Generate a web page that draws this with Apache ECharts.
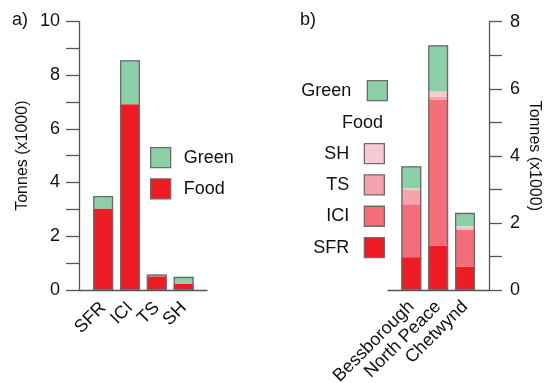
<!DOCTYPE html>
<html>
<head>
<meta charset="utf-8">
<script src="https://cdn.jsdelivr.net/npm/echarts@6/dist/echarts.min.js"></script>
<style>
  html, body { margin: 0; padding: 0; background: #fff; }
  #chart { width: 544px; height: 383px; }
</style>
</head>
<body>
<div id="chart"></div>
<script>
// Panel a) waste stream totals
const catsA = ['SFR', 'ICI', 'TS', 'SH'];
const foodA = [3.03, 6.91, 0.51, 0.23];
const greenA = [0.47, 1.64, 0.07, 0.26];

// Panel b) by community
const catsB = ['Bessborough', 'North Peace', 'Chetwynd'];
const sfrB = [0.98, 1.32, 0.70];
const iciB = [1.58, 4.35, 1.10];
const tsB = [0.42, 0.10, 0.04];
const shB = [0.05, 0.15, 0.06];
const greenB = [0.66, 1.38, 0.40];

const ticksA = [0, 2, 4, 6, 8, 10];
const ticksB = [0, 2, 4, 6, 8];

const C = {
  green: '#8dcfa6',
  red: '#ed1c24',
  ici: '#f26f7a',
  ts: '#f5a4ae',
  sh: '#f8c9d3',
  axis: '#555',
  edge: '#6b6b6b',
  text: '#111'
};
const FONT = 'Liberation Sans, Arial, sans-serif';

// value first so stacking happens on the y dimension; position index second
const pts = arr => arr.map((v, i) => [v, i]);
const sumOf = (...arrs) => arrs[0].map((_, i) => arrs.reduce((s, a) => s + a[i], 0));

function seg(name, data, color, axis, stack) {
  return {
    type: 'bar', name, stack, data: pts(data),
    encode: { x: 1, y: 0 },
    xAxisIndex: axis, yAxisIndex: axis,
    barWidth: 20, barGap: '-100%',
    itemStyle: { color },
    silent: true
  };
}
function outline(data, axis) {
  return {
    type: 'bar', name: 'Total' + axis, data: pts(data),
    encode: { x: 1, y: 0 },
    xAxisIndex: axis, yAxisIndex: axis,
    barWidth: 20, barGap: '-100%', z: 3,
    itemStyle: { color: 'rgba(0,0,0,0)', borderColor: C.edge, borderWidth: 1.3 },
    silent: true
  };
}

function xAxis(grid, cats, min, max, margin) {
  return {
    type: 'value', gridIndex: grid, min, max,
    axisLine: { show: true, onZero: false, lineStyle: { color: C.axis, width: 1.3 } },
    axisTick: { show: false },
    splitLine: { show: false },
    axisLabel: {
      customValues: cats.map((_, i) => i),
      formatter: v => cats[Math.round(v)],
      rotate: 45, margin,
      color: C.text, fontSize: 18, fontFamily: FONT
    }
  };
}
function yAxis(grid, pos, max, ticks, gap, rot, margin) {
  return {
    type: 'value', gridIndex: grid, position: pos, min: 0, max, interval: 1,
    name: 'Tonnes (x1000)', nameLocation: 'middle', nameGap: gap, nameRotate: rot,
    nameTextStyle: { color: C.text, fontSize: 16, fontFamily: FONT },
    axisLine: { show: true, onZero: false, lineStyle: { color: C.axis, width: 1.3 } },
    axisTick: { show: true, length: 13, lineStyle: { color: C.axis, width: 1.3 } },
    splitLine: { show: false },
    axisLabel: {
      margin,
      formatter: v => (ticks.indexOf(v) >= 0 ? String(v) : ''),
      color: C.text, fontSize: 18, fontFamily: FONT
    }
  };
}

const legendBase = {
  orient: 'vertical', itemWidth: 20, itemHeight: 20, itemGap: 10, padding: 0,
  icon: 'rect', selectedMode: false,
  itemStyle: { borderColor: C.edge, borderWidth: 1.3 },
  textStyle: { color: C.text, fontSize: 18, fontFamily: FONT }
};

const chart = echarts.init(document.getElementById('chart'), null, { renderer: 'canvas' });
chart.setOption({
  animation: false,
  backgroundColor: '#fff',
  title: [
    { text: 'a)', left: 12, top: 11, padding: 0, textStyle: { color: C.text, fontSize: 18, fontWeight: 'normal', fontFamily: FONT } },
    { text: 'b)', left: 300, top: 11, padding: 0, textStyle: { color: C.text, fontSize: 18, fontWeight: 'normal', fontFamily: FONT } },
    { text: 'Food', right: 161, top: 114, padding: 0, textStyle: { color: C.text, fontSize: 18, fontWeight: 'normal', fontFamily: FONT } }
  ],
  grid: [
    { left: 79, top: 21.3, width: 128, height: 268.7, outerBoundsMode: 'none', containLabel: false },
    { left: 388, top: 21.7, width: 101, height: 268.3, outerBoundsMode: 'none', containLabel: false }
  ],
  xAxis: [
    xAxis(0, catsA, -0.9, 3.87, 15),
    xAxis(1, catsB, -0.868, 2.894, 14)
  ],
  yAxis: [
    yAxis(0, 'left', 10, ticksA, 48, 90, 19),
    yAxis(1, 'right', 8, ticksB, 37, -90, 21)
  ],
  legend: [
    Object.assign({}, legendBase, {
      left: 150, top: 147, align: 'left', data: ['Green', 'Food'],
      textStyle: Object.assign({}, legendBase.textStyle, { padding: [0, 0, 0, 8] })
    }),
    Object.assign({}, legendBase, {
      right: 156, top: 80, align: 'right', data: ['Green'],
      textStyle: Object.assign({}, legendBase.textStyle, { padding: [0, 11, 0, 0] })
    }),
    Object.assign({}, legendBase, {
      right: 159, top: 143, align: 'right', data: ['SH', 'TS', 'ICI', 'SFR'],
      textStyle: Object.assign({}, legendBase.textStyle, { padding: [0, 10, 0, 0] })
    })
  ],
  series: [
    seg('Food', foodA, C.red, 0, 'a'),
    seg('Green', greenA, C.green, 0, 'a'),
    outline(sumOf(foodA, greenA), 0),
    seg('SFR', sfrB, C.red, 1, 'b'),
    seg('ICI', iciB, C.ici, 1, 'b'),
    seg('TS', tsB, C.ts, 1, 'b'),
    seg('SH', shB, C.sh, 1, 'b'),
    seg('Green', greenB, C.green, 1, 'b'),
    outline(sumOf(sfrB, iciB, tsB, shB, greenB), 1)
  ]
});
</script>
</body>
</html>
